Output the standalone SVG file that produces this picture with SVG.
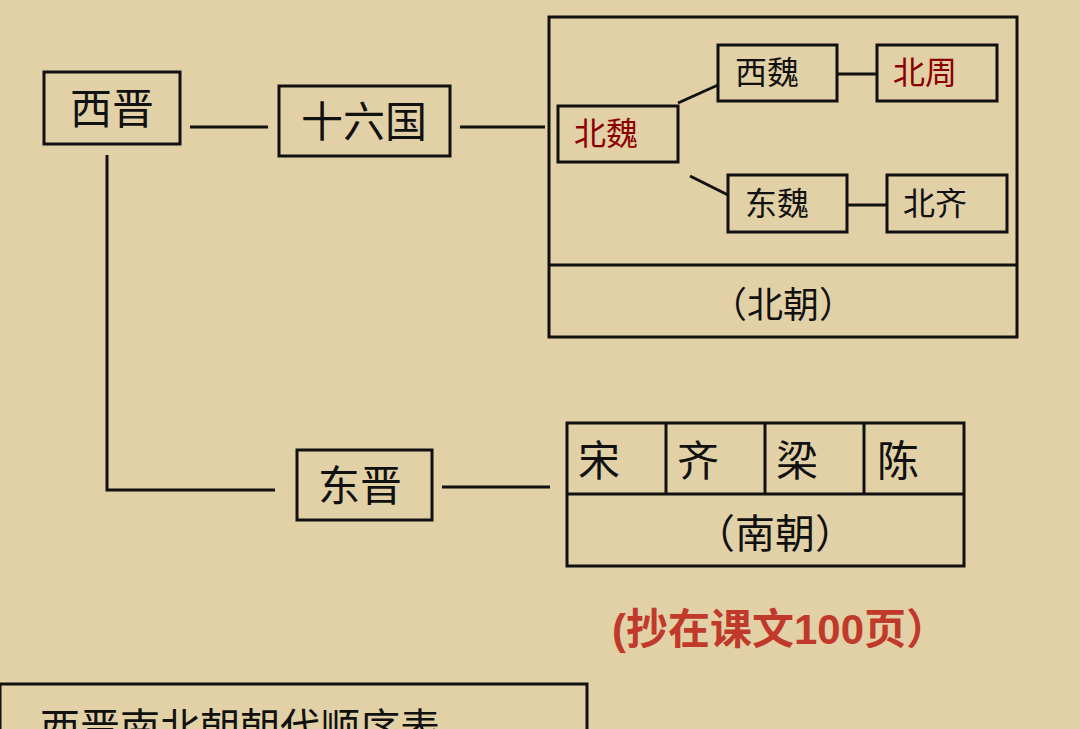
<svg xmlns="http://www.w3.org/2000/svg" width="1080" height="729" viewBox="0 0 1080 729">
<style>
.b{fill:none;stroke:#111;stroke-width:3}
.l{stroke:#111;stroke-width:3;fill:none}
.t{font-family:"Noto Sans CJK SC",sans-serif;fill:#111}
.r{fill:#8b0000}
</style>
<rect width="1080" height="729" fill="#e2d1a6"/>
<g id="connectors">
<line class="l" x1="190" y1="127" x2="268" y2="127"/>
<line class="l" x1="460" y1="127" x2="545" y2="127"/>
<line class="l" x1="678" y1="103" x2="718" y2="85"/>
<line class="l" x1="837" y1="74" x2="877" y2="74"/>
<line class="l" x1="690" y1="176" x2="728" y2="195"/>
<line class="l" x1="847" y1="205" x2="887" y2="205"/>
<polyline class="l" points="107,155 107,490 275,490"/>
<line class="l" x1="442" y1="487" x2="550" y2="487"/>
</g>
<g id="xijin"><rect class="b" x="44" y="72" width="136" height="72"/><text class="t" x="112" y="124" font-size="42" text-anchor="middle">西晋</text></g>
<g id="shiliuguo"><rect class="b" x="279" y="86" width="171" height="70"/><text class="t" x="364" y="137" font-size="42" text-anchor="middle">十六国</text></g>
<g id="beichao"><rect class="b" x="549" y="17" width="468" height="320"/><line class="l" x1="549" y1="265" x2="1017" y2="265"/><text class="t" x="783" y="318" font-size="36" text-anchor="middle">（北朝）</text></g>
<g id="beiwei"><rect class="b" x="558" y="106" width="120" height="56"/><text class="t r" x="606" y="145" font-size="32" text-anchor="middle">北魏</text></g>
<g id="xiwei"><rect class="b" x="718" y="45" width="119" height="56"/><text class="t" x="767" y="84" font-size="32" text-anchor="middle">西魏</text></g>
<g id="beizhou"><rect class="b" x="877" y="45" width="120" height="56"/><text class="t r" x="925" y="84" font-size="32" text-anchor="middle">北周</text></g>
<g id="dongwei"><rect class="b" x="728" y="175" width="119" height="57"/><text class="t" x="777" y="215" font-size="32" text-anchor="middle">东魏</text></g>
<g id="beiqi"><rect class="b" x="887" y="175" width="120" height="57"/><text class="t" x="935" y="215" font-size="32" text-anchor="middle">北齐</text></g>
<g id="dongjin"><rect class="b" x="297" y="450" width="135" height="70"/><text class="t" x="360" y="501" font-size="42" text-anchor="middle">东晋</text></g>
<g id="nanchao"><rect class="b" x="567" y="423" width="397" height="143"/>
<line class="l" x1="567" y1="494" x2="964" y2="494"/>
<line class="l" x1="666" y1="423" x2="666" y2="494"/><line class="l" x1="765" y1="423" x2="765" y2="494"/><line class="l" x1="864" y1="423" x2="864" y2="494"/>
<text class="t" x="578" y="476" font-size="42">宋</text><text class="t" x="677" y="476" font-size="42">齐</text><text class="t" x="776" y="476" font-size="42">梁</text><text class="t" x="877" y="476" font-size="42">陈</text>
<text class="t" x="775" y="548" font-size="40" text-anchor="middle">（南朝）</text></g>
<text x="612" y="644" font-family="'Liberation Sans','Noto Sans CJK SC',sans-serif" font-size="42" font-weight="bold" fill="#c0392b">(抄在课文100页）</text>
<g id="title"><rect class="b" x="0" y="684" width="587" height="60"/><text class="t" x="40" y="742" font-size="40">西晋南北朝朝代顺序表</text></g>
</svg>
